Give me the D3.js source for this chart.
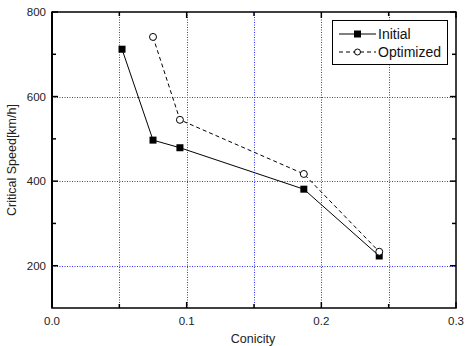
<!DOCTYPE html>
<html>
<head>
<meta charset="utf-8">
<script src="https://cdn.jsdelivr.net/npm/d3@7"></script>
<style>
  body { margin: 0; background: #fff; }
  svg { display: block; font-family: 'Liberation Sans', Arial, sans-serif; }
</style>
</head>
<body>
<div id="chart"></div>
<script>
const initialConicity = [0.052, 0.075, 0.095, 0.187, 0.243];
const initialSpeed = [712, 497, 479, 381, 223];
const optimizedConicity = [0.075, 0.095, 0.187, 0.243];
const optimizedSpeed = [741, 545, 417, 233];
const xTicks = [0.0, 0.1, 0.2, 0.3];
const xGrid = [0.05, 0.1, 0.15, 0.2, 0.25];
const yTicks = [200, 400, 600, 800];
const yMinor = [300, 500, 700];
const yGrid = [200, 400, 600];

const width = 465;
const height = 346;
const margin = { top: 12, right: 9, bottom: 38, left: 52 };

const x = d3.scaleLinear().domain([0, 0.3]).range([margin.left, width - margin.right]);
const y = d3.scaleLinear().domain([100, 800]).range([height - margin.bottom, margin.top]);

const svg = d3.select('#chart').append('svg')
  .attr('width', width)
  .attr('height', height);

// grid
const grid = svg.append('g')
  .attr('stroke', '#3333ff')
  .attr('stroke-width', 1)
  .attr('stroke-dasharray', '1,1.5');
grid.selectAll('.gx').data(xGrid).join('line')
  .attr('x1', (d) => Math.round(x(d)) + 0.5)
  .attr('x2', (d) => Math.round(x(d)) + 0.5)
  .attr('y1', y(800))
  .attr('y2', y(100));
grid.selectAll('.gy').data(yGrid).join('line')
  .attr('y1', (d) => Math.round(y(d)) + 0.5)
  .attr('y2', (d) => Math.round(y(d)) + 0.5)
  .attr('x1', x(0))
  .attr('x2', x(0.3));

// frame + inward ticks
const tickLen = 6;
const minorLen = 4;
const axes = svg.append('g').attr('stroke', '#000');
axes.append('rect')
  .attr('x', x(0)).attr('y', y(800))
  .attr('width', x(0.3) - x(0)).attr('height', y(100) - y(800))
  .attr('fill', 'none').attr('stroke-width', 1.5);
axes.append('line')
  .attr('x1', x(0)).attr('x2', x(0))
  .attr('y1', y(800)).attr('y2', y(100))
  .attr('stroke-width', 2);

const xMajor = d3.range(0, 7).map((i) => i * 0.05);
axes.selectAll('.xb').data(xMajor).join('line')
  .attr('x1', (d) => x(d)).attr('x2', (d) => x(d))
  .attr('y1', y(100)).attr('y2', (d, i) => y(100) - (i % 2 ? minorLen : tickLen))
  .attr('stroke-width', 1.5);
axes.selectAll('.xt').data(xMajor).join('line')
  .attr('x1', (d) => x(d)).attr('x2', (d) => x(d))
  .attr('y1', y(800)).attr('y2', (d, i) => y(800) + (i % 2 ? minorLen : tickLen))
  .attr('stroke-width', 1.5);
const yAll = yTicks.map((d) => [d, tickLen]).concat(yMinor.map((d) => [d, minorLen]));
axes.selectAll('.yl').data(yAll).join('line')
  .attr('x1', x(0)).attr('x2', (d) => x(0) + d[1])
  .attr('y1', (d) => y(d[0])).attr('y2', (d) => y(d[0]))
  .attr('stroke-width', 1.5);
axes.selectAll('.yr').data(yAll).join('line')
  .attr('x1', x(0.3)).attr('x2', (d) => x(0.3) - d[1])
  .attr('y1', (d) => y(d[0])).attr('y2', (d) => y(d[0]))
  .attr('stroke-width', 1.5);

// tick labels
svg.append('g').selectAll('text').data(xTicks).join('text')
  .attr('x', (d) => x(d))
  .attr('y', y(100) + 17)
  .attr('text-anchor', 'middle')
  .attr('font-size', 11.5)
  .attr('fill', '#222')
  .text((d) => d.toFixed(1));
svg.append('g').selectAll('text').data(yTicks).join('text')
  .attr('x', x(0) - 6)
  .attr('y', (d) => y(d) + 4)
  .attr('text-anchor', 'end')
  .attr('font-size', 11.5)
  .attr('fill', '#222')
  .text((d) => d);

// axis titles
svg.append('text')
  .attr('x', (x(0) + x(0.3)) / 2 - 1)
  .attr('y', 343)
  .attr('text-anchor', 'middle')
  .attr('font-size', 12.5)
  .attr('fill', '#222')
  .text('Conicity');
svg.append('text')
  .attr('transform', `translate(16, ${(y(800) + y(100)) / 2}) rotate(-90)`)
  .attr('text-anchor', 'middle')
  .attr('font-size', 12.5)
  .attr('fill', '#222')
  .text('Critical Speed[km/h]');

// series
const initial = initialConicity.map((c, i) => [c, initialSpeed[i]]);
const optimized = optimizedConicity.map((c, i) => [c, optimizedSpeed[i]]);
const line = d3.line().x((d) => x(d[0])).y((d) => y(d[1]));

svg.append('path').datum(initial)
  .attr('d', line).attr('fill', 'none')
  .attr('stroke', '#000').attr('stroke-width', 1);
svg.append('path').datum(optimized)
  .attr('d', line).attr('fill', 'none')
  .attr('stroke', '#000').attr('stroke-width', 1)
  .attr('stroke-dasharray', '4,3');

const sq = 7;
svg.append('g').selectAll('rect').data(initial).join('rect')
  .attr('x', (d) => x(d[0]) - sq / 2)
  .attr('y', (d) => y(d[1]) - sq / 2)
  .attr('width', sq).attr('height', sq)
  .attr('fill', '#000');
svg.append('g').selectAll('circle').data(optimized).join('circle')
  .attr('cx', (d) => x(d[0]))
  .attr('cy', (d) => y(d[1]))
  .attr('r', 3.5)
  .attr('fill', '#fff').attr('stroke', '#000').attr('stroke-width', 1);

// legend
const lg = svg.append('g');
lg.append('rect')
  .attr('x', 332.5).attr('y', 20.5)
  .attr('width', 115).attr('height', 44)
  .attr('fill', '#fff').attr('stroke', '#000').attr('stroke-width', 1);
lg.append('line').attr('x1', 339).attr('x2', 376).attr('y1', 34).attr('y2', 34)
  .attr('stroke', '#000');
lg.append('rect').attr('x', 357.5 - sq / 2).attr('y', 34 - sq / 2)
  .attr('width', sq).attr('height', sq).attr('fill', '#000');
lg.append('line').attr('x1', 339).attr('x2', 376).attr('y1', 52).attr('y2', 52)
  .attr('stroke', '#000').attr('stroke-dasharray', '4,3');
lg.append('circle').attr('cx', 357.5).attr('cy', 52).attr('r', 3)
  .attr('fill', '#fff').attr('stroke', '#000');
lg.append('text').attr('x', 378).attr('y', 39)
  .attr('font-size', 14).attr('fill', '#111').text('Initial');
lg.append('text').attr('x', 378).attr('y', 57)
  .attr('font-size', 14).attr('fill', '#111').text('Optimized');
</script>
</body>
</html>
